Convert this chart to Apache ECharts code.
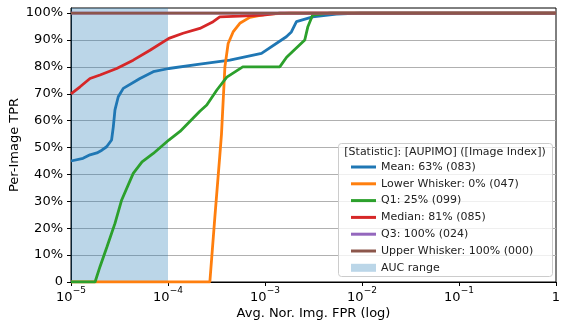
<!DOCTYPE html>
<html>
<head>
<meta charset="utf-8">
<script src="https://cdn.jsdelivr.net/npm/echarts@6/dist/echarts.min.js"></script>
<style>
html,body{margin:0;padding:0;background:#fff;}
#chart{width:570px;height:330px;}
</style>
</head>
<body>
<div id="chart"></div>
<script>
// curves: FPR (log axis) and TPR in percent
var meanFpr = [1e-5, 1.33e-5, 1.57e-5, 1.85e-5, 2.08e-5, 2.33e-5, 2.62e-5, 2.73e-5, 2.84e-5, 3.07e-5, 3.46e-5, 5.14e-5, 7.05e-5, 1.02e-4, 2.13e-4, 4.34e-4, 9.2e-4, 1.66e-3, 1.87e-3, 2.11e-3, 3.1e-3, 5.44e-3, 9.46e-3, 1];
var meanTpr = [45, 46, 47.3, 48, 49, 50.3, 52.8, 57.7, 64, 68.9, 72, 75.7, 78.2, 79.4, 81, 82.5, 85, 91.2, 93, 96.8, 98.6, 99.6, 100, 100];

var lowFpr = [1e-5, 2.70e-4, 3.04e-4, 3.42e-4, 3.56e-4, 3.86e-4, 4.17e-4, 4.69e-4, 5.5e-4, 6.97e-4, 1.04e-3, 1.8e-3, 1];
var lowTpr = [0, 0, 24, 47, 55, 80, 88.7, 93, 96.2, 98.4, 99.6, 100, 100];

var q1Fpr = [1e-5, 1.77e-5, 1.99e-5, 2.35e-5, 2.84e-5, 3.33e-5, 4.38e-5, 5.4e-5, 7.05e-5, 1.02e-4, 1.33e-4, 2.13e-4, 2.51e-4, 3.19e-4, 4.04e-4, 5.9e-4, 1.42e-3, 1.67e-3, 2.57e-3, 2.76e-3, 3.1e-3, 4.65e-3, 1];
var q1Tpr = [0, 0, 5.7, 13.1, 21.8, 30.5, 40.4, 44.7, 47.8, 52.8, 56, 63.5, 65.8, 71.4, 76.2, 80, 80, 83.6, 90, 94.8, 99.3, 100, 100];

var medFpr = [1e-5, 1.24e-5, 1.57e-5, 1.99e-5, 2.96e-5, 4.38e-5, 6.52e-5, 1.02e-4, 1.43e-4, 2.13e-4, 2.92e-4, 3.42e-4, 5.5e-4, 9.55e-4, 1.42e-3, 1];
var medTpr = [70, 72.6, 75.7, 77, 79.4, 82.5, 86.2, 90.6, 92.5, 94.3, 96.8, 98.6, 98.9, 99.3, 100, 100];

var q3Fpr = [1e-5, 1];
var q3Tpr = [100, 100];
var upFpr = [1e-5, 1];
var upTpr = [100, 100];

var aucRange = [1e-5, 1e-4];
var yTicks = [0, 10, 20, 30, 40, 50, 60, 70, 80, 90, 100];

var lineIcon = 'path://M0,0h25v3h-25z';
var patchIcon = 'path://M0,0h25v8h-25z';

function pairs(xs, ys){
  var out = [];
  for (var i = 0; i < xs.length; i++) out.push([xs[i], ys[i]]);
  return out;
}
function mkLine(name, color, xs, ys){
  return {
    name: name, type: 'line', data: pairs(xs, ys),
    symbol: 'none', showSymbol: false, smooth: false,
    lineStyle: {color: color, width: 2.8},
    itemStyle: {color: color}
  };
}

var font = 'DejaVu Sans';
var chart = echarts.init(document.getElementById('chart'));
chart.setOption({
  animation: false,
  textStyle: {fontFamily: font},
  grid: {left: 71, right: 14, top: 8, bottom: 48, containLabel: false, outerBoundsMode: 'none',
    show: true, borderColor: '#000', borderWidth: 1, backgroundColor: 'transparent'},
  xAxis: {
    type: 'log', logBase: 10, min: 1e-5, max: 1,
    name: 'Avg. Nor. Img. FPR (log)', nameLocation: 'middle', nameGap: 25, nameMoveOverlap: false,
    nameTextStyle: {fontSize: 13, color: '#000', fontFamily: font},
    axisLine: {lineStyle: {color: '#000', width: 1}},
    axisTick: {show: true, length: 4, lineStyle: {color: '#000'}},
    axisLabel: {
      color: '#000', margin: 4, fontFamily: font,
      formatter: function(v){
        var e = Math.round(Math.log10(v));
        if (e === 0) return '{b|1}';
        return '{b|10}{s|' + String(e).replace('-', '\u2212') + '}';
      },
      rich: {
        b: {fontSize: 13, lineHeight: 18, verticalAlign: 'bottom', color: '#000', fontFamily: font},
        s: {fontSize: 9, lineHeight: 11, verticalAlign: 'top', color: '#000', fontFamily: font}
      }
    },
    splitLine: {show: false},
    minorTick: {show: false}
  },
  yAxis: {
    type: 'value', min: 0, max: 101.9, interval: 10,
    name: 'Per-Image TPR', nameLocation: 'middle', nameGap: 50, nameMoveOverlap: false,
    nameTextStyle: {fontSize: 13, color: '#000', fontFamily: font},
    axisLine: {show: true, lineStyle: {color: '#000', width: 1}},
    axisTick: {show: true, length: 4, lineStyle: {color: '#000'}, customValues: yTicks},
    axisLabel: {
      fontSize: 13, color: '#000', margin: 8, fontFamily: font, customValues: yTicks,
      formatter: function(v){ return v === 0 ? '0' : Math.round(v) + '%'; }
    },
    splitLine: {show: true, lineStyle: {color: '#b0b0b0', width: 1}}
  },
  legend: {
    orient: 'vertical', left: 351, top: 161, z: 60,
    padding: 0, itemGap: 4.8, itemWidth: 25, itemHeight: 12,
    textStyle: {fontSize: 11, color: '#222', lineHeight: 12, fontFamily: font},
    data: [
      {name: 'Mean: 63% (083)', icon: lineIcon},
      {name: 'Lower Whisker: 0% (047)', icon: lineIcon},
      {name: 'Q1: 25% (099)', icon: lineIcon},
      {name: 'Median: 81% (085)', icon: lineIcon},
      {name: 'Q3: 100% (024)', icon: lineIcon},
      {name: 'Upper Whisker: 100% (000)', icon: lineIcon},
      {name: 'AUC range', icon: patchIcon, itemStyle: {color: 'rgba(31,119,180,0.3)'}}
    ]
  },
  graphic: [
    {type: 'rect', z: 50, shape: {x: 338.5, y: 143.5, width: 214, height: 133, r: 3},
     style: {fill: 'rgba(255,255,255,0.8)', stroke: '#cccccc', lineWidth: 1}},
    {type: 'text', z: 51, x: 445, y: 152,
     style: {text: '[Statistic]: [AUPIMO] ([Image Index])', fontSize: 11, fontFamily: font, fill: '#222', align: 'center', verticalAlign: 'middle'}}
  ],
  series: [
    {
      name: 'AUC range', type: 'line', data: [], symbol: 'none',
      itemStyle: {color: 'rgba(31,119,180,0.3)'},
      markArea: {silent: true, itemStyle: {color: 'rgba(31,119,180,0.3)'},
        data: [[{xAxis: aucRange[0]}, {xAxis: aucRange[1]}]]}
    },
    mkLine('Mean: 63% (083)', '#1f77b4', meanFpr, meanTpr),
    mkLine('Lower Whisker: 0% (047)', '#ff7f0e', lowFpr, lowTpr),
    mkLine('Q1: 25% (099)', '#2ca02c', q1Fpr, q1Tpr),
    mkLine('Median: 81% (085)', '#d62728', medFpr, medTpr),
    mkLine('Q3: 100% (024)', '#9467bd', q3Fpr, q3Tpr),
    mkLine('Upper Whisker: 100% (000)', '#8c564b', upFpr, upTpr)
  ]
});
</script>
</body>
</html>
